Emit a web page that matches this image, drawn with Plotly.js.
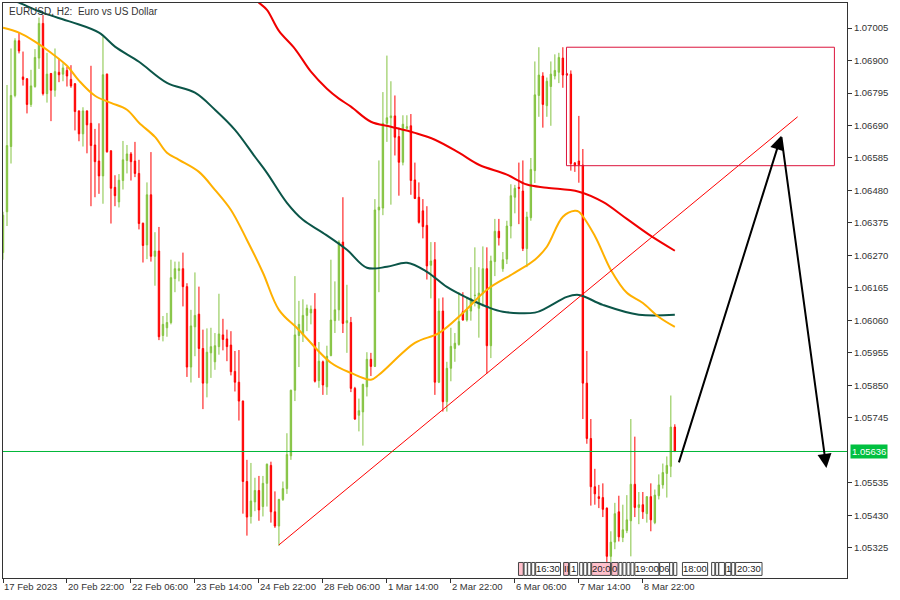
<!DOCTYPE html>
<html>
<head>
<meta charset="utf-8">
<script src="https://cdn.plot.ly/plotly-3.0.1.min.js"></script>
<style>html,body{margin:0;padding:0;background:#fff;}#chart{width:900px;height:600px;}</style>
</head>
<body>
<div id="chart"></div>
<script>
// ---- data (EURUSD H2, bar index 0 = 17 Feb 2023 14:00) ----
const open = [1.06279,1.06411,1.06622,1.06787,1.06964,1.06847,1.06841,1.06758,1.06816,1.06908,
1.07020,1.06793,1.06858,1.06804,1.06862,1.06856,1.06868,1.06839,1.06825,1.06737,
1.06663,1.06737,1.06697,1.06627,1.06575,1.06527,1.06856,1.06608,1.06490,1.06443,
1.06512,1.06577,1.06598,1.06575,1.06535,1.06374,1.06304,1.06466,1.06267,1.06284,
1.06011,1.06036,1.06053,1.06195,1.06221,1.06227,1.06169,1.05909,1.06039,1.06080,
1.05969,1.05857,1.05955,1.05926,1.05975,1.06013,1.06000,1.05980,1.05895,1.05860,
1.05799,1.05539,1.05426,1.05473,1.05510,1.05458,1.05533,1.05591,1.05441,1.05395,
1.05481,1.05516,1.05622,1.05834,1.06011,1.06013,1.06076,1.06084,1.06096,1.05865,
1.05926,1.05845,1.05946,1.06059,1.06094,1.06313,1.06052,1.06053,1.05840,1.05753,
1.05764,1.05845,1.05934,1.05911,1.06417,1.06423,1.06697,1.06715,1.06721,1.06654,
1.06571,1.06681,1.06689,1.06514,1.06458,1.06414,1.06367,1.06238,1.06256,1.05860,
1.06090,1.05797,1.05905,1.05969,1.05982,1.06088,1.06061,1.06090,1.06140,1.06099,
1.06146,1.06227,1.05978,1.06250,1.06348,1.06227,1.06258,1.06365,1.06458,1.06490,
1.06478,1.06292,1.06392,1.06544,1.06787,1.06850,1.06754,1.06816,1.06850,1.06862,
1.06908,1.06857,1.06856,1.06569,1.06575,1.06562,1.05857,1.05678,1.05522,1.05490,
1.05487,1.05453,1.05297,1.05343,1.05441,1.05358,1.05380,1.05412,1.05530,1.05455,
1.05464,1.05435,1.05490,1.05406,1.05493,1.05528,1.05565,1.05588,1.05715];
const high = [1.06411,1.06821,1.06939,1.06972,1.06989,1.06929,1.06843,1.06870,1.06937,1.07039,
1.07047,1.06925,1.06860,1.06939,1.06906,1.06891,1.06879,1.06885,1.06827,1.06739,
1.06749,1.06739,1.06883,1.06679,1.06697,1.06977,1.06858,1.06610,1.06529,1.06533,
1.06640,1.06627,1.06604,1.06637,1.06579,1.06376,1.06506,1.06604,1.06345,1.06362,
1.06074,1.06084,1.06256,1.06250,1.06250,1.06279,1.06180,1.06094,1.06215,1.06169,
1.06030,1.06034,1.06036,1.06019,1.06146,1.06065,1.06030,1.06025,1.05961,1.05964,
1.05801,1.05609,1.05599,1.05551,1.05557,1.05557,1.05597,1.05603,1.05507,1.05483,
1.05539,1.05695,1.05836,1.06203,1.06123,1.06128,1.06111,1.06108,1.06148,1.05990,
1.05930,1.05978,1.06256,1.06186,1.06319,1.06458,1.06175,1.06071,1.05845,1.05807,
1.05855,1.05957,1.05955,1.06452,1.06577,1.06798,1.06916,1.06833,1.06787,1.06683,
1.06723,1.06723,1.06727,1.06570,1.06506,1.06452,1.06429,1.06313,1.06313,1.06131,
1.06134,1.05926,1.06036,1.06019,1.06151,1.06151,1.06136,1.06232,1.06296,1.06232,
1.06299,1.06296,1.06269,1.06388,1.06388,1.06281,1.06382,1.06500,1.06498,1.06570,
1.06577,1.06411,1.06585,1.06897,1.06943,1.06862,1.06845,1.06897,1.06920,1.06925,
1.06943,1.06860,1.06868,1.06572,1.06721,1.06614,1.05961,1.05741,1.05580,1.05528,
1.05533,1.05455,1.05378,1.05470,1.05493,1.05464,1.05495,1.05741,1.05684,1.05505,
1.05505,1.05492,1.05533,1.05513,1.05562,1.05597,1.05620,1.05817,1.05724];
const low = [1.06256,1.06365,1.06567,1.06781,1.06923,1.06819,1.06729,1.06750,1.06812,1.06873,
1.06787,1.06764,1.06704,1.06783,1.06830,1.06833,1.06816,1.06812,1.06674,1.06639,
1.06622,1.06600,1.06429,1.06458,1.06469,1.06437,1.06602,1.06373,1.06429,1.06425,
1.06483,1.06535,1.06512,1.06523,1.06354,1.06247,1.06258,1.06250,1.06172,1.05996,
1.05992,1.06007,1.06047,1.06151,1.06186,1.06105,1.05877,1.05859,1.05944,1.05874,
1.05773,1.05811,1.05874,1.05900,1.05949,1.05963,1.05928,1.05882,1.05830,1.05736,
1.05435,1.05364,1.05403,1.05443,1.05412,1.05426,1.05458,1.05406,1.05389,1.05331,
1.05476,1.05499,1.05609,1.05799,1.05909,1.05990,1.06025,1.06047,1.05859,1.05842,
1.05819,1.05819,1.05944,1.06019,1.06059,1.06019,1.05955,1.05828,1.05738,1.05701,
1.05655,1.05814,1.05880,1.05909,1.06151,1.06400,1.06637,1.06434,1.06593,1.06463,
1.06561,1.06677,1.06466,1.06452,1.06373,1.06325,1.06192,1.06131,1.05819,1.05857,
1.05765,1.05765,1.05863,1.05926,1.05978,1.06059,1.06056,1.06059,1.06105,1.06004,
1.06105,1.05888,1.05938,1.06203,1.06302,1.06217,1.06242,1.06325,1.06406,1.06371,
1.06284,1.06232,1.06382,1.06504,1.06718,1.06683,1.06718,1.06689,1.06839,1.06827,
1.06812,1.06850,1.06544,1.06540,1.06505,1.05741,1.05661,1.05461,1.05464,1.05453,
1.05424,1.05279,1.05279,1.05320,1.05345,1.05343,1.05372,1.05297,1.05424,1.05401,
1.05418,1.05406,1.05378,1.05401,1.05481,1.05516,1.05487,1.05553,1.05634];
const close = [1.06400,1.06625,1.06787,1.06964,1.06931,1.06839,1.06758,1.06818,1.06910,1.07020,
1.06793,1.06856,1.06804,1.06864,1.06854,1.06876,1.06850,1.06818,1.06735,1.06663,
1.06737,1.06692,1.06625,1.06573,1.06527,1.06854,1.06605,1.06487,1.06463,1.06513,
1.06579,1.06598,1.06573,1.06535,1.06373,1.06302,1.06466,1.06267,1.06284,1.06007,
1.06047,1.06053,1.06198,1.06227,1.06227,1.06169,1.05909,1.06042,1.06076,1.05969,
1.05857,1.05957,1.05975,1.05978,1.06016,1.05998,1.05975,1.05894,1.05860,1.05799,
1.05539,1.05424,1.05476,1.05510,1.05447,1.05533,1.05595,1.05441,1.05395,1.05481,
1.05516,1.05626,1.05834,1.06013,1.06047,1.06076,1.06099,1.06096,1.05863,1.05928,
1.05851,1.05944,1.06061,1.06094,1.06313,1.06050,1.06059,1.05840,1.05741,1.05768,
1.05853,1.05934,1.05911,1.06417,1.06426,1.06697,1.06715,1.06721,1.06652,1.06571,
1.06694,1.06686,1.06512,1.06454,1.06377,1.06363,1.06236,1.06252,1.05860,1.06090,
1.05797,1.05905,1.05976,1.05986,1.06056,1.06061,1.06094,1.06131,1.06141,1.06148,
1.06227,1.05978,1.06252,1.06348,1.06327,1.06256,1.06365,1.06463,1.06487,1.06487,
1.06292,1.06394,1.06548,1.06789,1.06853,1.06758,1.06833,1.06856,1.06868,1.06910,
1.06853,1.06854,1.06567,1.06560,1.06563,1.05857,1.05678,1.05522,1.05499,1.05484,
1.05449,1.05297,1.05343,1.05435,1.05360,1.05383,1.05415,1.05530,1.05455,1.05464,
1.05441,1.05490,1.05415,1.05495,1.05528,1.05568,1.05591,1.05715,1.05636];

// moving averages (bar index, value)
const maFastK = [0,4,8,12,16,19,23,27,31,34,38,41,44,49,53,57,61,65,69,74,82,87,92,94,103,109,115,121,128,133,136,140,143,144,148,152,156,160,164,168];
const maFast  = [1.07006,1.06990,1.06961,1.06925,1.06883,1.06835,1.06786,1.06763,1.06741,1.06699,1.06653,1.06602,1.06579,1.06540,1.06482,1.06417,1.06320,1.06214,1.06094,1.06029,1.05923,1.05890,1.05868,1.05884,1.05987,1.06019,1.06084,1.06159,1.06214,1.06256,1.06298,1.06395,1.06414,1.06411,1.06333,1.06223,1.06149,1.06116,1.06071,1.06039];
const maMidK = [0,4,10,17,24,28,34,41,48,53,58,63,66,71,75,80,86,91,96,101,106,111,116,121,125,133,136,141,144,150,159,168];
const maMid  = [1.07108,1.07087,1.07054,1.07025,1.06990,1.06945,1.06896,1.06828,1.06796,1.06741,1.06676,1.06589,1.06537,1.06440,1.06385,1.06343,1.06288,1.06230,1.06233,1.06246,1.06217,1.06168,1.06133,1.06104,1.06088,1.06085,1.06101,1.06136,1.06142,1.06110,1.06078,1.06078];
const maSlowK = [62,64,66,69,73,77,81,84,87,92,97,103,108,114,119,126,131,136,144,150,156,162,168];
const maSlow  = [1.07112,1.07087,1.07064,1.06996,1.06938,1.06864,1.06809,1.06777,1.06751,1.06702,1.06686,1.06666,1.06644,1.06602,1.06563,1.06531,1.06499,1.06489,1.06476,1.06443,1.06388,1.06333,1.06285];

// axis labels
const timeTickK = [0,16,32,48,64,80,96,112,128,144,160];
const timeLabels = ['17 Feb 2023','20 Feb 22:00','22 Feb 06:00','23 Feb 14:00','24 Feb 22:00','28 Feb 06:00','1 Mar 14:00','2 Mar 22:00','6 Mar 06:00','7 Mar 14:00','8 Mar 22:00'];
const priceTicks = [1.05325,1.05430,1.05535,1.05745,1.05850,1.05955,1.06060,1.06165,1.06270,1.06375,1.06480,1.06585,1.06690,1.06795,1.06900,1.07005];

// drawn objects
const trendK = [69, 198.7];
const trendP = [1.05334, 1.06718];
const zoneK = [140.9, 207.9];
const zoneP = [1.06943, 1.06560];
const pathK = [168.9, 194.6, 205.9];
const pathP = [1.05596, 1.06657, 1.05583];

// calendar event boxes at the bottom (bar index start/end, text, highlighted)
const calStart = [128.9,130.3,131.2,132.2,133.2,140.2,141.7,144.2,145.2,146.2,147.2,152.2,154.0,155.0,156.0,157.0,158.0,164.2,166.7,167.7,169.9,177.2,178.2,179.0,180.7,182.2,183.2];
const calEnd   = [130.1,131.1,132.0,133.0,139.4,141.4,143.7,145.0,146.0,147.0,151.9,153.8,154.8,155.8,156.8,157.8,164.0,166.7,167.5,168.5,176.2,178.0,178.9,180.4,182.0,183.0,189.8];
const calText  = ['','','','','16:30','II','1','','','','20:0','0','','','','','19:00','06','','','18:00','','','','1','','20:30'];
const calPink  = [1,0,0,0,0,1,0,0,0,0,1,1,0,0,0,0,0,0,0,0,0,0,0,0,0,0,0];

const idx = open.map((_, i) => i);
const lastClose = close[close.length - 1];
const FONT = 'Liberation Sans, Arial, sans-serif';
const GREEN = '#84C341';

const traces = [
  {type:'candlestick', x: idx, open, high, low, close,
   increasing:{line:{color:GREEN, width:1}, fillcolor:GREEN},
   decreasing:{line:{color:'#FF0000', width:1}, fillcolor:'#FF0000'},
   whiskerwidth:0, hoverinfo:'skip', showlegend:false},
  {type:'scatter', mode:'lines', x: maSlowK, y: maSlow, line:{color:'#F00000', width:2, shape:'spline'}, hoverinfo:'skip', showlegend:false},
  {type:'scatter', mode:'lines', x: maMidK, y: maMid, line:{color:'#0B5548', width:2, shape:'spline'}, hoverinfo:'skip', showlegend:false},
  {type:'scatter', mode:'lines', x: maFastK, y: maFast, line:{color:'#FFB000', width:2, shape:'spline'}, hoverinfo:'skip', showlegend:false}
];

const shapes = [
  {type:'line', xref:'paper', yref:'y', x0:0, x1:1, y0:lastClose, y1:lastClose, line:{color:'#00B838', width:1}, layer:'above'},
  {type:'line', xref:'x', yref:'y', x0:trendK[0], y0:trendP[0], x1:trendK[1], y1:trendP[1], line:{color:'#FF0000', width:1}, layer:'above'},
  {type:'rect', xref:'x', yref:'y', x0:zoneK[0], x1:zoneK[1], y0:zoneP[0], y1:zoneP[1], line:{color:'#DC143C', width:1}, fillcolor:'rgba(0,0,0,0)', layer:'above'}
];

const annotations = [
  {xref:'paper', yref:'paper', x:0, y:1, xanchor:'left', yanchor:'top', xshift:4, yshift:-1, showarrow:false,
   text:'EURUSD,\u00a0H2:\u00a0\u00a0Euro vs US Dollar', font:{family:FONT, size:10, color:'#333333'}},
  {xref:'paper', yref:'y', x:1, y:lastClose, xanchor:'left', yanchor:'middle', xshift:3, showarrow:false,
   text:lastClose.toFixed(5), bgcolor:'#00C040', borderpad:1, font:{family:FONT, size:9.5, color:'#ffffff'}},
  {xref:'x', yref:'y', axref:'x', ayref:'y', x:pathK[1], y:pathP[1], ax:pathK[0], ay:pathP[0], text:'',
   showarrow:true, arrowhead:2, arrowsize:1.4, arrowwidth:2, arrowcolor:'#000000', standoff:0},
  {xref:'x', yref:'y', axref:'x', ayref:'y', x:pathK[2], y:pathP[2], ax:pathK[1], ay:pathP[1], text:'',
   showarrow:true, arrowhead:2, arrowsize:1.4, arrowwidth:2, arrowcolor:'#000000', standoff:0}
];

// calendar boxes
for (let i = 0; i < calStart.length; i++) {
  shapes.push({type:'rect', xref:'x', yref:'paper', x0:calStart[i], x1:calEnd[i], y0:0.0045, y1:0.0270,
    line:{color:'#444444', width:1}, fillcolor: calPink[i] ? '#FFC0CB' : '#FFFFFF', layer:'above'});
  if (calText[i]) {
    annotations.push({xref:'x', yref:'paper', x:(calStart[i]+calEnd[i])/2, y:0.0158, xanchor:'center', yanchor:'middle',
      showarrow:false, text:calText[i], font:{family:FONT, size:9.5, color:'#222222'}});
  }
}

const layout = {
  width:900, height:600,
  margin:{l:3, r:53, t:3, b:22, pad:0},
  paper_bgcolor:'#ffffff', plot_bgcolor:'#ffffff',
  showlegend:false, boxgap:0.5, dragmode:false, hovermode:false,
  font:{family:FONT, size:9.5, color:'#333333'},
  xaxis:{range:[0, 211.05], tickvals:timeTickK, ticktext:timeLabels, ticks:'outside', ticklen:4, tickcolor:'#333333',
    showline:true, linecolor:'#333333', linewidth:1, mirror:true, showgrid:false, zeroline:false, tickangle:0,
    ticklabelposition:'outside right', tickfont:{family:FONT, size:9.5, color:'#333333'},
    rangeslider:{visible:false}, fixedrange:true},
  yaxis:{side:'right', range:[1.05227, 1.07086], tickvals:priceTicks, ticktext:priceTicks.map(v => v.toFixed(5)),
    ticks:'outside', ticklen:4, tickcolor:'#333333', showline:true, linecolor:'#333333', linewidth:1, mirror:true,
    showgrid:false, zeroline:false, tickfont:{family:FONT, size:9.5, color:'#333333'}, fixedrange:true},
  shapes, annotations
};

Plotly.newPlot('chart', traces, layout, {displayModeBar:false, staticPlot:true});
</script>
</body>
</html>
